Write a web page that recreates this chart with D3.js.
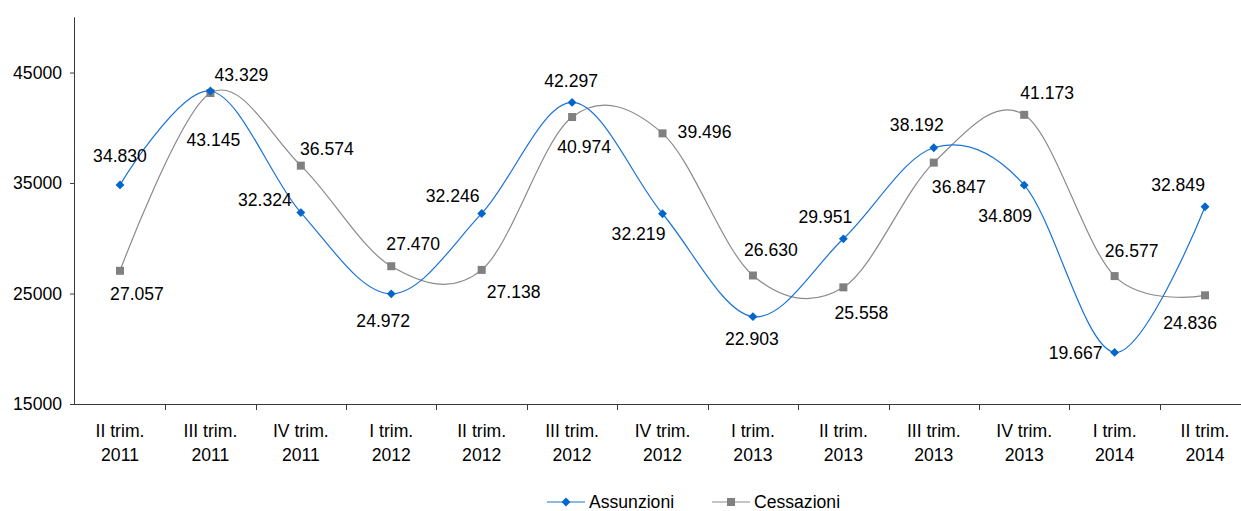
<!DOCTYPE html>
<html>
<head>
<meta charset="utf-8">
<script src="https://cdn.jsdelivr.net/npm/d3@7"></script>
<style>
  html, body { margin: 0; padding: 0; background: #ffffff; }
  svg { display: block; font-family: "Liberation Sans", Arial, sans-serif; }
</style>
</head>
<body>
<svg id="chart" width="1241" height="511"></svg>
<script>
// ---- data ----
const categories = [
  "II trim. 2011", "III trim. 2011", "IV trim. 2011",
  "I trim. 2012", "II trim. 2012", "III trim. 2012", "IV trim. 2012",
  "I trim. 2013", "II trim. 2013", "III trim. 2013", "IV trim. 2013",
  "I trim. 2014", "II trim. 2014"
];
const assunzioni = [34830, 43329, 32324, 24972, 32246, 42297, 32219, 22903, 29951, 38192, 34809, 19667, 32849];
const cessazioni = [27057, 43145, 36574, 27470, 27138, 40974, 39496, 26630, 25558, 36847, 41173, 26577, 24836];
const yTicks = [15000, 25000, 35000, 45000];
const seriesNames = ["Assunzioni", "Cessazioni"];

// ---- label placement (offsets of label centre from the point) ----
const assDx = [0, 31, -36, -8, -29, -1, -24, -1, -18, -17, -19, -39, -27];
const assDy = [-29, -16, -13, 27, -18, -22, 20, 22, -22, -23, 31, 0, -22];
const cesDx = [17, 3, 26, 22, 32, 12, 42, 18, 18, 25, 23, 17, -15];
const cesDy = [23, 47, -17, -23, 22, 30, -2, -26, 25, 24, -22, -25, 27];

// ---- layout ----
const svg = d3.select("#chart");
const plotLeft = 75, plotBottom = 404, plotTop = 17.3;
const band = 90.42;
const x = d3.scaleBand().domain(categories).range([120 - band / 2, 120 + band * 12.5]).padding(0);
const cx = c => x(c) + x.bandwidth() / 2;
const y = d3.scaleLinear().domain([15000, 50000]).range([plotBottom, plotTop]);

const it = d3.formatLocale({ decimal: ",", thousands: ".", grouping: [3], currency: ["€", ""] });
const fmt = it.format(",d");

const FONT = "17.6px";
const axisColor = "#3a3a3a";

// y axis
const yAxis = d3.axisLeft(y).tickValues(yTicks).tickSize(5).tickPadding(8).tickFormat(d3.format("d"));
const gy = svg.append("g").attr("transform", `translate(${plotLeft},0)`).call(yAxis);
gy.select(".domain").attr("stroke", axisColor).attr("d", `M-0.5,${y(15000)}V${plotTop}`);
gy.selectAll(".tick line").attr("stroke", axisColor);
gy.selectAll(".tick text").attr("font-size", FONT).attr("fill", "#000").attr("font-family", "Liberation Sans, Arial, sans-serif");

// x axis
const gx = svg.append("g").attr("transform", `translate(0,${plotBottom})`);
gx.append("line").attr("x1", plotLeft - 0.5).attr("x2", 1241).attr("y1", 0.5).attr("y2", 0.5)
  .attr("stroke", axisColor);
gx.selectAll("line.tk").data(categories.slice(1)).join("line").attr("class", "tk")
  .attr("x1", d => Math.round(x(d)) + 0.5).attr("x2", d => Math.round(x(d)) + 0.5)
  .attr("y1", 0).attr("y2", 6).attr("stroke", axisColor);
const xl = gx.selectAll("text.cat").data(categories).join("text").attr("class", "cat")
  .attr("text-anchor", "middle").attr("font-size", FONT).attr("fill", "#000");
xl.each(function (d) {
  const parts = d.split(/\s(?=\d{4}$)/);
  const t = d3.select(this);
  t.append("tspan").attr("x", cx(d)).attr("y", 33).text(parts[0]);
  t.append("tspan").attr("x", cx(d)).attr("y", 57).text(parts[1]);
});

// lines
const line = d3.line().x((d, i) => cx(categories[i])).y(d => y(d)).curve(d3.curveCardinal.tension(0));
const blue = "#0066cc", blueLine = "#1a73d6", grey = "#808080", greyLine = "#8a8a8a";

svg.append("path").datum(cessazioni).attr("d", line).attr("fill", "none")
  .attr("stroke", greyLine).attr("stroke-width", 1.2);
svg.append("path").datum(assunzioni).attr("d", line).attr("fill", "none")
  .attr("stroke", blueLine).attr("stroke-width", 1.2);

// markers
svg.selectAll("rect.ces").data(cessazioni).join("rect").attr("class", "ces")
  .attr("x", (d, i) => cx(categories[i]) - 4).attr("y", d => y(d) - 4)
  .attr("width", 8).attr("height", 8).attr("fill", grey);
const diamond = d3.symbol().type(d3.symbolDiamond2).size(50);
svg.selectAll("path.ass").data(assunzioni).join("path").attr("class", "ass")
  .attr("d", diamond).attr("transform", (d, i) => `translate(${cx(categories[i])},${y(d)})`)
  .attr("fill", blue);

// data labels
svg.selectAll("text.lces").data(cessazioni).join("text").attr("class", "lces")
  .attr("x", (d, i) => cx(categories[i]) + cesDx[i]).attr("y", (d, i) => y(d) + cesDy[i])
  .attr("dy", "0.36em").attr("text-anchor", "middle").attr("font-size", FONT).attr("fill", "#000")
  .text(d => fmt(d));
svg.selectAll("text.lass").data(assunzioni).join("text").attr("class", "lass")
  .attr("x", (d, i) => cx(categories[i]) + assDx[i]).attr("y", (d, i) => y(d) + assDy[i])
  .attr("dy", "0.36em").attr("text-anchor", "middle").attr("font-size", FONT).attr("fill", "#000")
  .text(d => fmt(d));

// legend
const lg = svg.append("g");
const legendItems = [
  { name: seriesNames[0], x0: 547, color: blueLine, mcolor: blue, type: "diamond" },
  { name: seriesNames[1], x0: 712, color: greyLine, mcolor: grey, type: "square" }
];
legendItems.forEach(it => {
  const ly = 502;
  lg.append("line").attr("x1", it.x0).attr("x2", it.x0 + 38).attr("y1", ly).attr("y2", ly)
    .attr("stroke", it.color).attr("stroke-width", 1.2);
  if (it.type === "diamond") {
    lg.append("path").attr("d", diamond).attr("transform", `translate(${it.x0 + 19},${ly})`).attr("fill", it.mcolor);
  } else {
    lg.append("rect").attr("x", it.x0 + 15).attr("y", ly - 4).attr("width", 8).attr("height", 8).attr("fill", it.mcolor);
  }
  lg.append("text").attr("x", it.x0 + 42).attr("y", ly).attr("dy", "0.36em")
    .attr("font-size", "17.6px").attr("fill", "#000").text(it.name);
});
</script>
</body>
</html>
